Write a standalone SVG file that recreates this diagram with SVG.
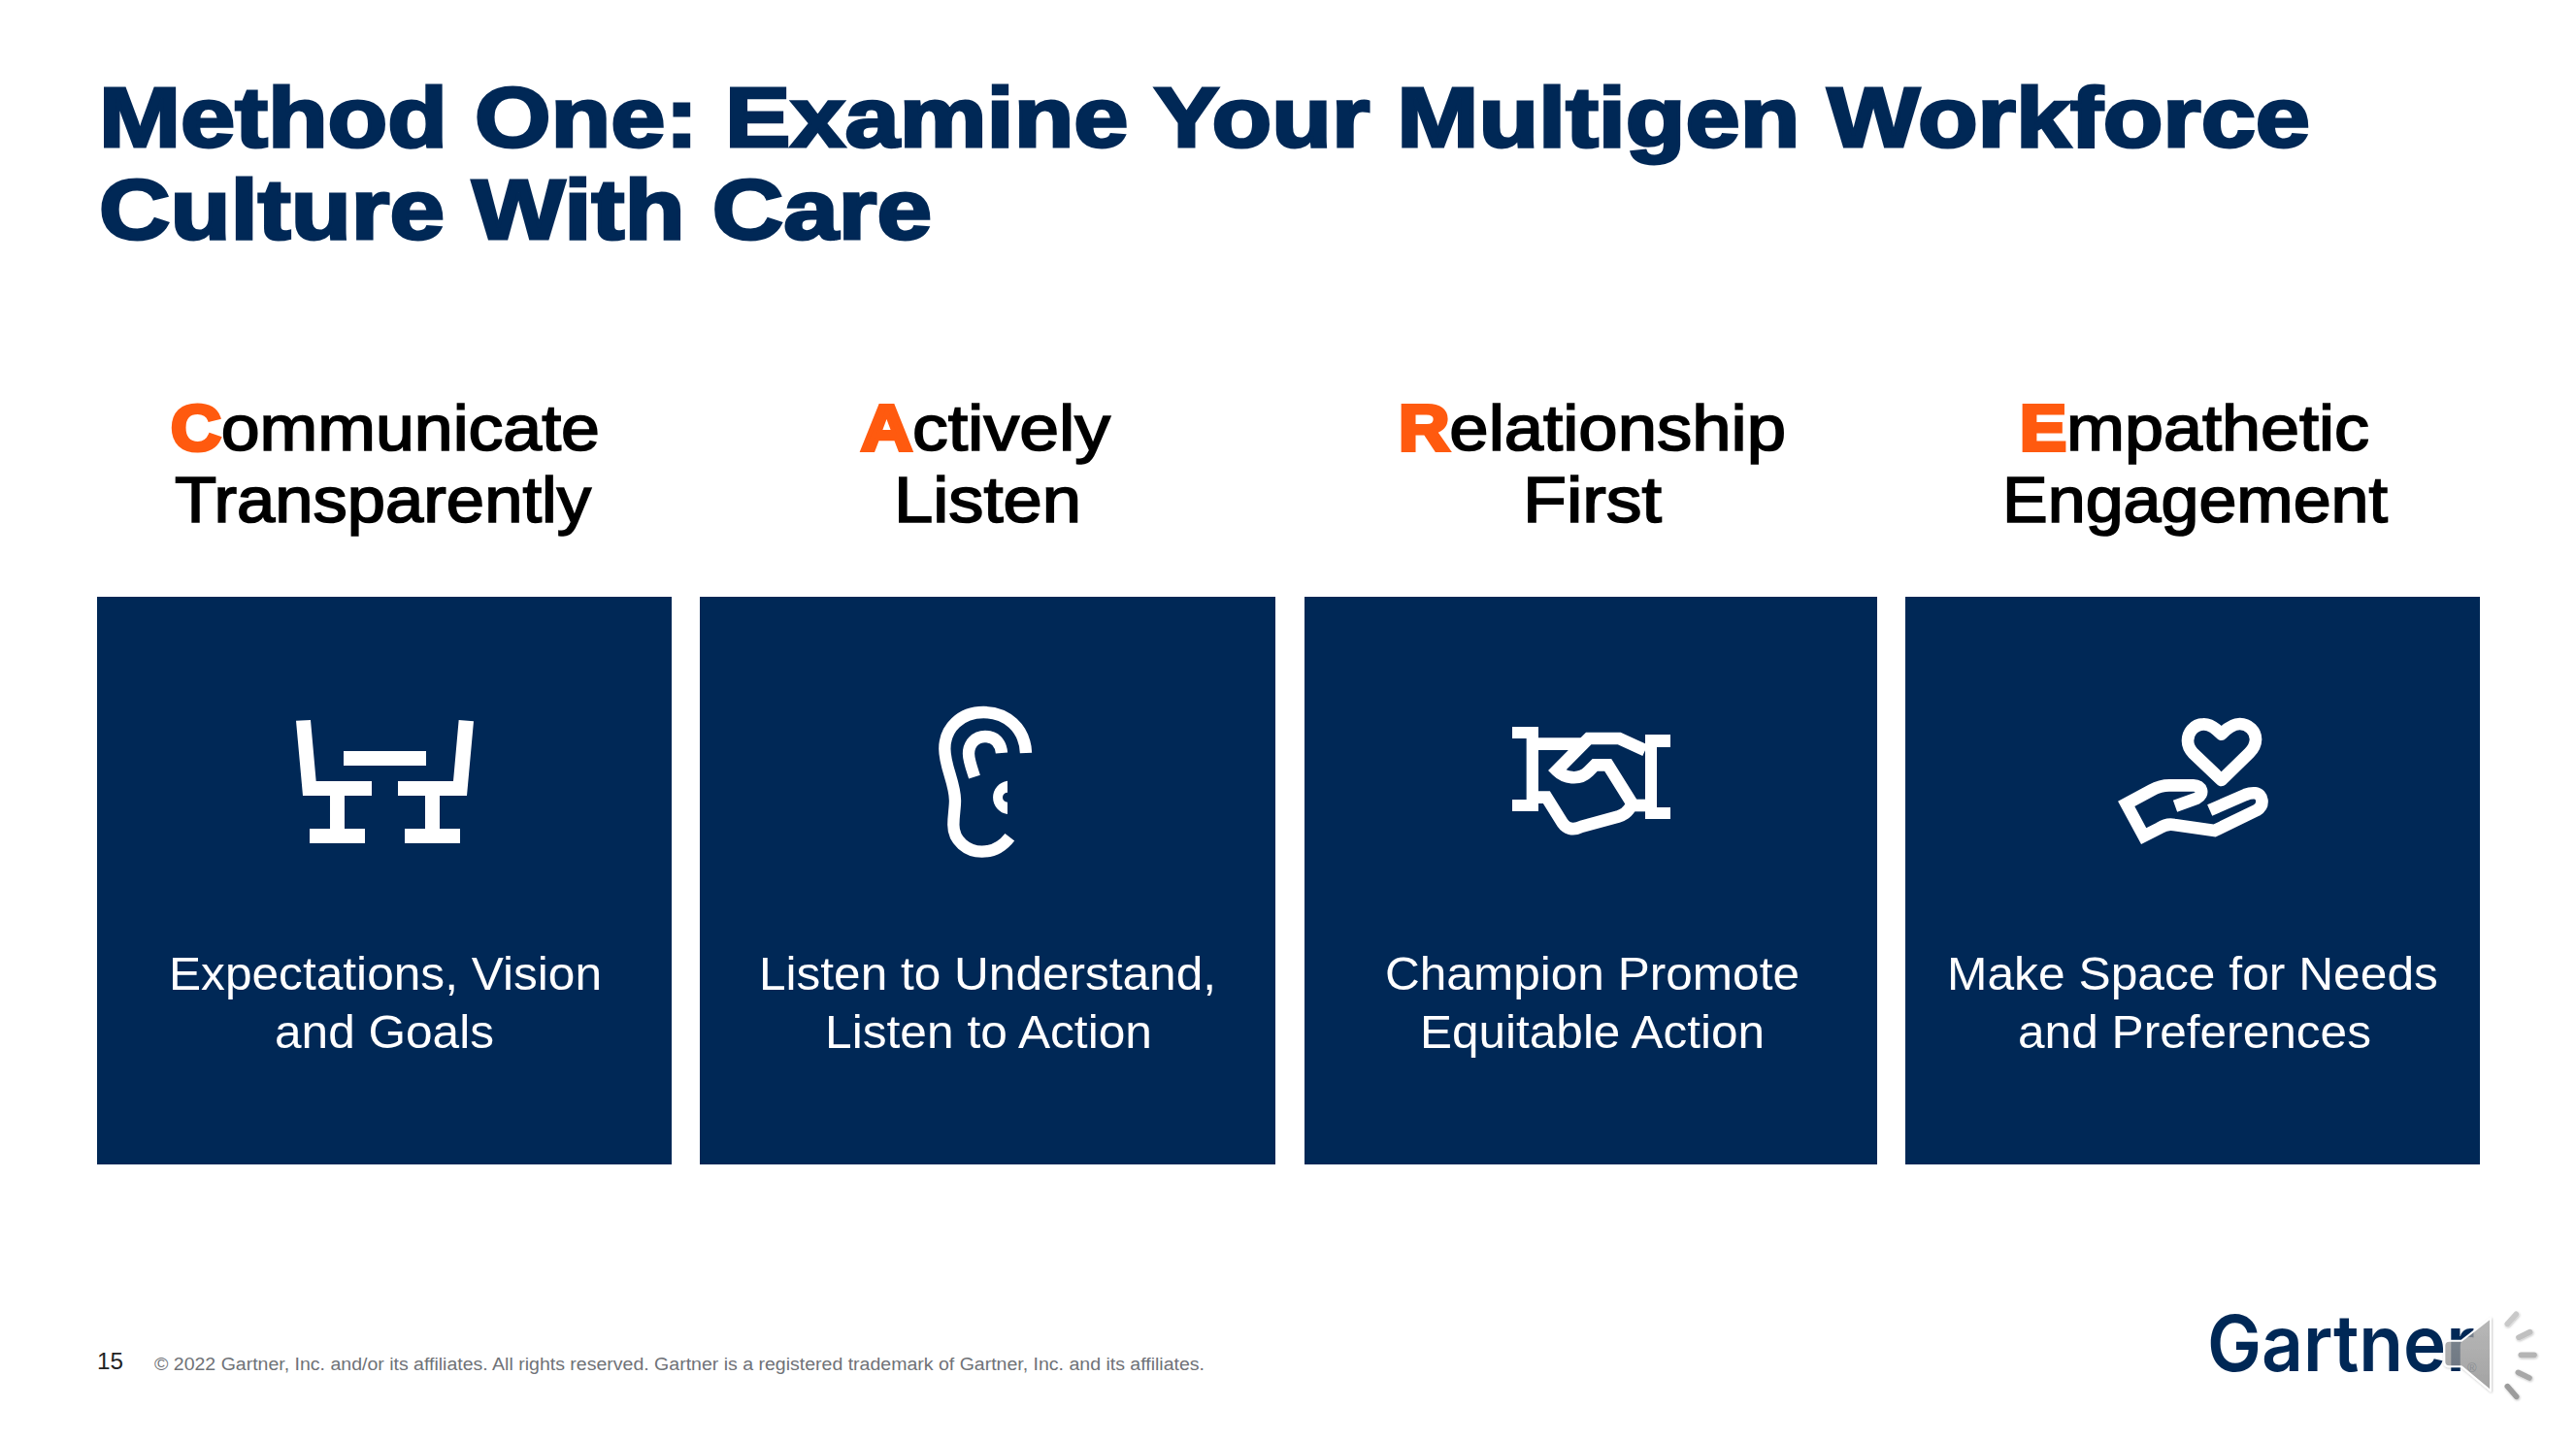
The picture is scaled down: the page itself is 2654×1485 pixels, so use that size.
<svg xmlns="http://www.w3.org/2000/svg" width="2654" height="1485" viewBox="0 0 2654 1485">
<style>
text{font-family:"Liberation Sans",Arial,sans-serif}
.title{font-size:87px;font-weight:700;fill:#002856;stroke:#002856;stroke-width:3}
.head{font-size:66px;fill:#000;stroke:#000;stroke-width:1.7}
.o{font-weight:700;fill:#ff5a0f;stroke:#ff5a0f;stroke-width:4}
.body{font-size:48.5px;fill:#fff}
.card{fill:#002856}
.ic{fill:none;stroke:#fff;stroke-width:38;stroke-linejoin:miter}
.sf{fill:#fff}
.ray{stroke-width:17;stroke-linecap:round;fill:none}
</style>
<defs>
<linearGradient id="spk" x1="0" y1="0" x2="0" y2="1"><stop offset="0" stop-color="#a8a8a8"/><stop offset="1" stop-color="#8c8c8c"/></linearGradient>
<filter id="sh" x="-30%" y="-30%" width="170%" height="170%"><feDropShadow dx="2" dy="3" stdDeviation="2.5" flood-color="#000" flood-opacity=".25"/></filter>
</defs>
<rect width="2654" height="1485" fill="#fff"/>
<g id="title">
<text class="title" x="102" y="151" textLength="2278" lengthAdjust="spacingAndGlyphs">Method One: Examine Your Multigen Workforce</text>
<text class="title" x="102" y="246" textLength="858" lengthAdjust="spacingAndGlyphs">Culture With Care</text>
</g>
<g id="col1">
<text class="head" x="176" y="464" textLength="442" lengthAdjust="spacingAndGlyphs"><tspan class="o">C</tspan>ommunicate</text>
<text class="head" x="180" y="538" textLength="429" lengthAdjust="spacingAndGlyphs">Transparently</text>
<rect class="card" x="100" y="615" width="592" height="585"/>
<g transform="translate(260 700) scale(.33333)">
<path class="sf" d="M282 222H537V267H282Z"/>
<path class="sf" d="M135 128L180 126L197 315H369V360H285V462H348V507H177V462H240V360H156Z"/>
<path class="sf" d="M638 126L684 130L663 360H579V462H642V507H471V462H534V360H450V315H621Z"/>
</g>
<text class="body" x="174" y="1020" textLength="446" lengthAdjust="spacingAndGlyphs">Expectations, Vision</text>
<text class="body" x="283" y="1079.500" textLength="226" lengthAdjust="spacingAndGlyphs">and Goals</text>
</g>
<g id="col2">
<text class="head" x="887" y="464" textLength="257" lengthAdjust="spacingAndGlyphs"><tspan class="o">A</tspan>ctively</text>
<text class="head" x="921" y="538" textLength="193" lengthAdjust="spacingAndGlyphs">Listen</text>
<rect class="card" x="721" y="615" width="593" height="585"/>
<g transform="translate(930 700) scale(.33333)">
<path class="ic" style="stroke-width:37" d="M381 228C378 150 320 102 250 102C180 102 130 150 130 215C130 270 162 320 162 375C162 400 157 420 157 450C157 500 200 533 245 533C280 533 310 515 331 488"/>
<path class="ic" style="stroke-width:37" d="M306 228C303 195 285 177 255 177C225 177 204 200 204 230C204 250 215 280 222 302"/>
<path class="sf" d="M324 314A52 52 0 0 0 324 417V380A15 15 0 0 1 324 350Z"/>
</g>
<text class="body" x="782" y="1020" textLength="471" lengthAdjust="spacingAndGlyphs">Listen to Understand,</text>
<text class="body" x="850" y="1079.500" textLength="337" lengthAdjust="spacingAndGlyphs">Listen to Action</text>
</g>
<g id="col3">
<text class="head" x="1441" y="464" textLength="399" lengthAdjust="spacingAndGlyphs"><tspan class="o">R</tspan>elationship</text>
<text class="head" x="1569" y="538" textLength="143" lengthAdjust="spacingAndGlyphs">First</text>
<rect class="card" x="1344" y="615" width="590" height="585"/>
<g transform="translate(1540 720) scale(.33333)">
<path class="sf" d="M54 87H135V123H135V348H54V312H98V123H54Z"/>
<path class="sf" d="M465 111H543V150H501V336H543V372H465Z"/>
<path class="ic" d="M135 140H280"/>
<path class="ic" d="M465 160L385 123H290L192 222C215 245 260 255 290 225L310 205H350L425 325C410 355 395 360 380 365L270 395C240 410 220 400 210 385L160 305H135"/>
<path class="ic" d="M430 330H465"/>
</g>
<text class="body" x="1427" y="1020" textLength="427" lengthAdjust="spacingAndGlyphs">Champion Promote</text>
<text class="body" x="1463" y="1079.500" textLength="355" lengthAdjust="spacingAndGlyphs">Equitable Action</text>
</g>
<g id="col4">
<text class="head" x="2081" y="464" textLength="360" lengthAdjust="spacingAndGlyphs"><tspan class="o">E</tspan>mpathetic</text>
<text class="head" x="2063" y="538" textLength="397" lengthAdjust="spacingAndGlyphs">Engagement</text>
<rect class="card" x="1963" y="615" width="592" height="585"/>
<g transform="translate(2160 720) scale(.33333)">
<path class="ic" style="stroke-linejoin:round" d="M386 110C365 88 345 78 330 79C300 80 282 105 282 130C282 150 292 162 300 170L386 252L472 168C485 155 492 145 492 125C492 100 470 78 443 78C425 78 405 90 386 110Z"/>
<path class="ic" d="M243 332L310 308C335 295 325 268 300 268H225C205 268 190 272 170 283L92 325L146 425L195 400C210 390 225 387 240 390L365 408L495 345C520 330 515 295 490 292C480 291 470 293 460 297L350 345"/>
</g>
<text class="body" x="2006" y="1020" textLength="506" lengthAdjust="spacingAndGlyphs">Make Space for Needs</text>
<text class="body" x="2079" y="1079.500" textLength="364" lengthAdjust="spacingAndGlyphs">and Preferences</text>
</g>
<g id="footer">
<text x="100" y="1411" font-size="24" fill="#222" textLength="27" lengthAdjust="spacingAndGlyphs">15</text>
<text x="159" y="1412" font-size="18" fill="#6f7277" textLength="1082" lengthAdjust="spacingAndGlyphs">© 2022 Gartner, Inc. and/or its affiliates. All rights reserved. Gartner is a registered trademark of Gartner, Inc. and its affiliates.</text>
</g>
<g id="logo">
<text x="2274" y="1413" font-size="80" font-weight="600" fill="#002856" style="font-family:Inter,sans-serif" textLength="276" lengthAdjust="spacingAndGlyphs">Gartner</text>
<text x="2542" y="1414" font-size="13" fill="#6f7f92">®</text>
</g>
<g id="speaker" transform="translate(2240 1330) scale(.33333)">
<path d="M850 155H888L978 85V310L888 235H850Q835 235 835 220V170Q835 155 850 155Z" fill="url(#spk)" fill-opacity=".72" stroke="#fff" stroke-width="6" stroke-linejoin="round" filter="url(#sh)"/>
<g filter="url(#sh)">
<path class="ray" stroke="#c9c9c9" d="M1030 103L1057 73"/>
<path class="ray" stroke="#c0c0c0" d="M1065 145L1100 128"/>
<path class="ray" stroke="#b4b4b4" d="M1072 199H1113"/>
<path class="ray" stroke="#a8a8a8" d="M1063 253L1098 270"/>
<path class="ray" stroke="#9c9c9c" d="M1030 296L1058 328"/>
</g>
</g>
</svg>
